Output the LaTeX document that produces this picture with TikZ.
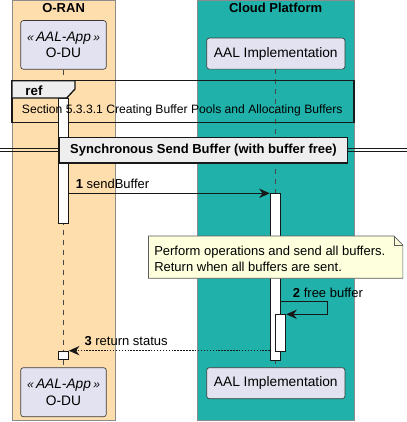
\documentclass[tikz,border=0pt]{standalone}
\usepackage{fontspec}
\setmainfont{Liberation Sans}
\usetikzlibrary{arrows.meta,calc}
\definecolor{oran}{RGB}{255,222,173}
\definecolor{cloud}{RGB}{32,178,170}
\definecolor{partfill}{RGB}{226,226,240}
\definecolor{ink}{RGB}{24,24,24}
\definecolor{notey}{RGB}{254,255,221}
\definecolor{tabg}{RGB}{238,238,238}
\definecolor{boxline}{RGB}{140,140,140}
\begin{document}
\begin{tikzpicture}[x=0.75pt,y=-0.75pt,
  grpbox/.style={draw=boxline,line width=0.7pt},
  grptitle/.style={font=\fontsize{9.75}{12}\selectfont\bfseries,inner sep=0pt},
  partbox/.style={draw=ink!85,fill=partfill,line width=0.5pt,rounded corners=2pt,align=center,
    font=\fontsize{10.3}{12.5}\selectfont,inner sep=0pt},
  lifeline/.style={draw=ink!80,line width=0.5pt,dash pattern=on 3.75pt off 3.75pt},
  actbar/.style={draw=ink,fill=white,line width=0.75pt,inner sep=0pt,minimum width=7.5pt,anchor=north},
  msg/.style={draw=ink,line width=0.8pt,-{Stealth[length=8pt,width=7pt,inset=2.6pt]}},
  msgdot/.style={msg,dash pattern=on 1.1pt off 1.1pt},
  lbl/.style={font=\fontsize{9.75}{12}\selectfont,inner sep=0pt,anchor=west},
  frameline/.style={draw=ink,line width=1.1pt}]
\useasboundingbox (0,0) rectangle (407,422);
\fill[white] (0,0) rectangle (407,422);
% group boxes
\draw[grpbox,fill=oran] (12,0.4) rectangle (115.3,420.7);
\draw[grpbox,fill=cloud] (197.3,0.4) rectangle (354,420.7);
\node[grptitle] (toran) at (63.6,8) {O-RAN};
\node[grptitle] (tcloud) at (275.6,8) {Cloud Platform};
% participants
\node[partbox,minimum width=64.2pt,minimum height=36.5pt] (oduT) at (63.5,44.9) {{\itshape {\small«}\,AAL-App\,{\small»}}\\O-DU};
\node[partbox,minimum width=103.7pt,minimum height=23.3pt] (aalT) at (275.8,53.6) {AAL Implementation};
\node[partbox,minimum width=64.2pt,minimum height=36.8pt] (oduB) at (63.5,392.2) {{\itshape {\small«}\,AAL-App\,{\small»}}\\O-DU};
\node[partbox,minimum width=103.7pt,minimum height=23.3pt] (aalB) at (275.8,383.2) {AAL Implementation};
% lifelines
\draw[lifeline] (oduT.south) -- (oduB.north);
\draw[lifeline] (aalT.south) -- (aalB.north);
% ref frame
\draw[frameline] (12,80.7) rectangle (354,122.7);
% activation bars
\node[actbar,minimum height=94pt] (bar1) at (63.3,98) {};
\node[actbar,minimum height=125pt] (bar2) at (275.3,193.3) {};
\node[actbar,minimum height=27.3pt] (bar3) at (280.7,314.3) {};
\node[actbar,minimum height=6.5pt] (bar4) at (63.3,350.7) {};
% ref tab and text
\draw[frameline,fill=tabg,line width=1pt] (12,80.7) -- (75,80.7) -- (75,89) -- (66.7,98) -- (12,98) -- cycle;
\node[font=\fontsize{10}{12}\selectfont\bfseries,inner sep=0pt] (reftag) at (34,91) {ref};
\node[lbl,font=\fontsize{9.1}{11}\selectfont] (reftext) at (21.7,110) {Section 5.3.3.1 Creating Buffer Pools and Allocating Buffers};
% divider
\draw[draw=ink,line width=0.75pt] (0,148.4) -- (407,148.4);
\draw[draw=ink,line width=0.75pt] (0,151.4) -- (407,151.4);
\node[frameline,fill=tabg,minimum width=216.3pt,minimum height=19.3pt,inner sep=0pt,
  font=\fontsize{9.75}{12}\selectfont\bfseries] (divider) at (203.5,150.1) {Synchronous Send Buffer (with buffer free)};
% message 1
\draw[msg] (bar1.north east |- bar2.north west) -- (bar2.north west);
\node[lbl] (l1) at (75.5,184.3) {\textbf{1} sendBuffer};
% note
\node[anchor=north west,minimum width=190.4pt,minimum height=31.3pt,inner sep=0pt] (note) at (148.5,236) {};
\draw[draw=ink!70,fill=notey,line width=0.5pt] (note.north west) -- ($(note.north east)+(-9,0)$) -- ($(note.north east)+(0,9)$) -- (note.south east) -- (note.south west) -- cycle;
\draw[draw=ink!70,line width=0.5pt] ($(note.north east)+(-9,0)$) -- ($(note.north east)+(-9,9)$) -- ($(note.north east)+(0,9)$);
\node[lbl,align=left,font=\fontsize{9.75}{12.2}\selectfont] (notetext) at (154,259.2) {Perform operations and send all buffers.\\Return when all buffers are sent.};
% message 2 (self)
\coordinate (m2) at (0,301.7);
\draw[msg] (bar2.north east |- m2) -- ++(47,0) |- (bar3.north east);
\node[lbl] (l2) at (292.7,292.7) {\textbf{2} free buffer};
% message 3
\draw[msgdot] (bar2.west |- bar4.north east) -- (bar4.north east);
\node[lbl] (l3) at (84.3,340.7) {\textbf{3} return status};
\end{tikzpicture}
\end{document}
